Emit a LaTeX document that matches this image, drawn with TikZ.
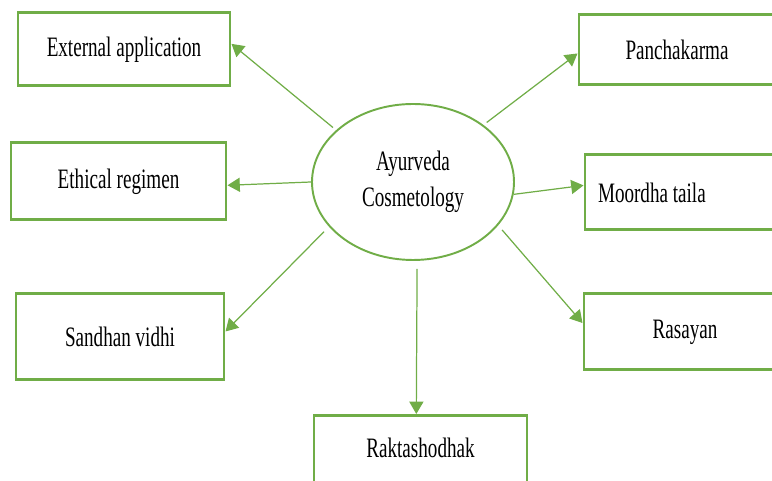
\documentclass[tikz,border=0pt]{standalone}
\usepackage{fontspec}
\setmainfont{Liberation Serif}[FakeStretch=0.68]
\usetikzlibrary{shapes.geometric, arrows.meta, positioning}
\definecolor{leaf}{HTML}{70AD47}

\begin{document}
\begin{tikzpicture}[
  box/.style={rectangle, draw=leaf, line width=1.7pt, inner sep=0pt,
    font=\fontsize{16}{20.5}\selectfont},
  hub/.style={ellipse, draw=leaf, line width=1.1pt, inner sep=0pt,
    minimum width=4.04cm, minimum height=3.12cm, align=center,
    font=\fontsize{16}{20.5}\selectfont},
  link/.style={draw=leaf, line width=0.7pt, -{Triangle[length=7pt,width=8pt]}}]

  \clip (0,0) rectangle (15.44,9.62);

  \node[hub](ayur) at (8.26,5.98){Ayurveda\\Cosmetology};

  % left column
  \node[box, minimum width=4.24cm, minimum height=1.46cm](ext) at (2.48,8.63){External application};
  \node[box, minimum width=4.30cm, minimum height=1.54cm](eth) at (2.37,5.99){Ethical regimen};
  \node[box, minimum width=4.16cm, minimum height=1.72cm](san) at (2.40,2.88){Sandhan vidhi};

  % right column
  \node[box, minimum width=3.92cm, minimum height=1.40cm](pan) at (13.54,8.62){Panchakarma};
  \node[box, minimum width=4.00cm, minimum height=1.50cm](moo) at (13.70,5.77)
    {\makebox[3.48cm][l]{Moordha taila}};
  \node[box, minimum width=4.04cm, minimum height=1.52cm](ras) at (13.70,2.98){Rasayan};

  % bottom, cut off by the frame
  \node[box, minimum width=4.26cm, text height=0.84cm, text depth=0.7cm, anchor=north]
    (rak) at (8.41,1.34){Raktashodhak};

  \foreach \a/\b/\g in {146/ext.3.5/2.3, 39/pan.182/2.3, 180/eth.-2/0, -7/moo.176/0,
      208/san.3/4, -27/ras.175/3.4, -87/rak.96/4.5}
    \draw[link, shorten <=\g pt] (ayur.\a) -- (\b);
\end{tikzpicture}
\end{document}
